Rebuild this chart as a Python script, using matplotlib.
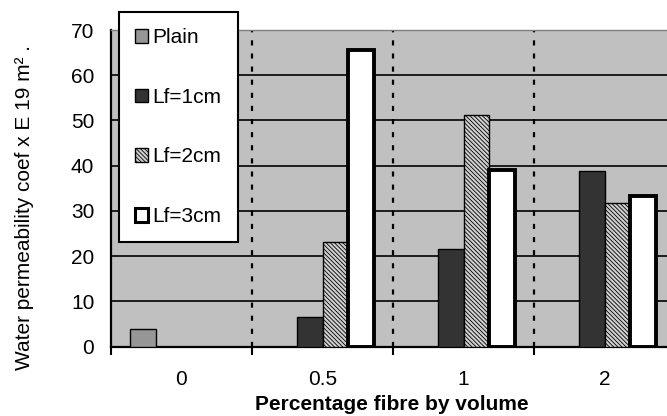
import numpy as np
import matplotlib
matplotlib.use('Agg')
import matplotlib.pyplot as plt
from matplotlib.patches import Patch

plt.rcParams['font.family'] = ['Liberation Sans', 'DejaVu Sans']
plt.rcParams['hatch.linewidth'] = 0.6

# data
categories = ['0', '0.5', '1', '2']
series_names = ['Plain', 'Lf=1cm', 'Lf=2cm', 'Lf=3cm']
plain = [3.9, np.nan, np.nan, np.nan]
lf_1cm = [np.nan, 6.5, 21.7, 38.8]
lf_2cm = [np.nan, 23.2, 51.3, 31.8]
lf_3cm = [np.nan, 65.5, 39.1, 33.3]

fig = plt.figure(figsize=(6.67, 4.16), dpi=100)
# plot area runs past the right edge of the picture, as in the original
ax = fig.add_axes([111 / 667, 1 - 346.7 / 416, 564 / 667, (346.7 - 30) / 416])
ax.set_facecolor('#c0c0c0')

x = np.arange(len(categories))
w = 0.184

styles = [
    dict(facecolor='#969696', edgecolor='black', linewidth=1.0),
    dict(facecolor='#333333', edgecolor='black', linewidth=1.0),
    dict(facecolor='#d0d0d0', edgecolor='black', linewidth=1.0, hatch='\\\\\\\\\\\\\\\\'),
    dict(facecolor='white', edgecolor='black', linewidth=2.8),
]
all_series = [plain, lf_1cm, lf_2cm, lf_3cm]
for i, (vals, st) in enumerate(zip(all_series, styles)):
    ax.bar(x + (i - 1.5) * w, vals, w, zorder=3, **st)

# horizontal grid
ax.set_ylim(0, 70)
ax.set_yticks(np.arange(0, 71, 10))
ax.yaxis.grid(True, color='black', linewidth=1.2)
ax.set_axisbelow(True)
ax.tick_params(axis='y', length=0, pad=12, labelsize=15)

# category separators
ax.set_xlim(-0.5, len(categories) - 0.5)
for b in x[:-1] + 0.5:
    ax.axvline(b, color='black', linewidth=1.6, linestyle=(0, (2.3, 3.6)), zorder=1)
ax.set_xticks(x)
ax.set_xticklabels(categories)
ax.set_xticks(np.arange(-0.5, len(categories), 1.0), minor=True)
ax.tick_params(axis='x', which='major', length=0, pad=17, labelsize=15)
ax.tick_params(axis='x', which='minor', length=6, width=1.5, direction='out')

for s in ['left', 'bottom']:
    ax.spines[s].set_linewidth(1.6)
ax.spines['top'].set_color('#808080')
ax.spines['top'].set_linewidth(1.0)
ax.spines['right'].set_visible(False)

fig.text(25 / 667, 0.5, 'Water permeability coef x E 19 m² .', rotation=90,
         ha='center', va='center', fontsize=15)
fig.text(391.5 / 667, 1 - 404 / 416, 'Percentage fibre by volume', ha='center',
         va='center', fontsize=15, fontweight='bold')

handles = [Patch(**st) for st in styles]
handles[3].set_linewidth(2.2)
leg = ax.legend(handles, series_names, loc='upper left',
                bbox_to_anchor=(119 / 667, 1 - 12 / 416), bbox_transform=fig.transFigure,
                borderaxespad=0, fontsize=15, fancybox=False, framealpha=1,
                edgecolor='black', handlelength=0.62, handleheight=0.62,
                handletextpad=0.22, labelspacing=1.95, borderpad=0.78)
leg.get_frame().set_linewidth(1.5)
leg.set_zorder(10)

fig.savefig('out.png', dpi=100)
